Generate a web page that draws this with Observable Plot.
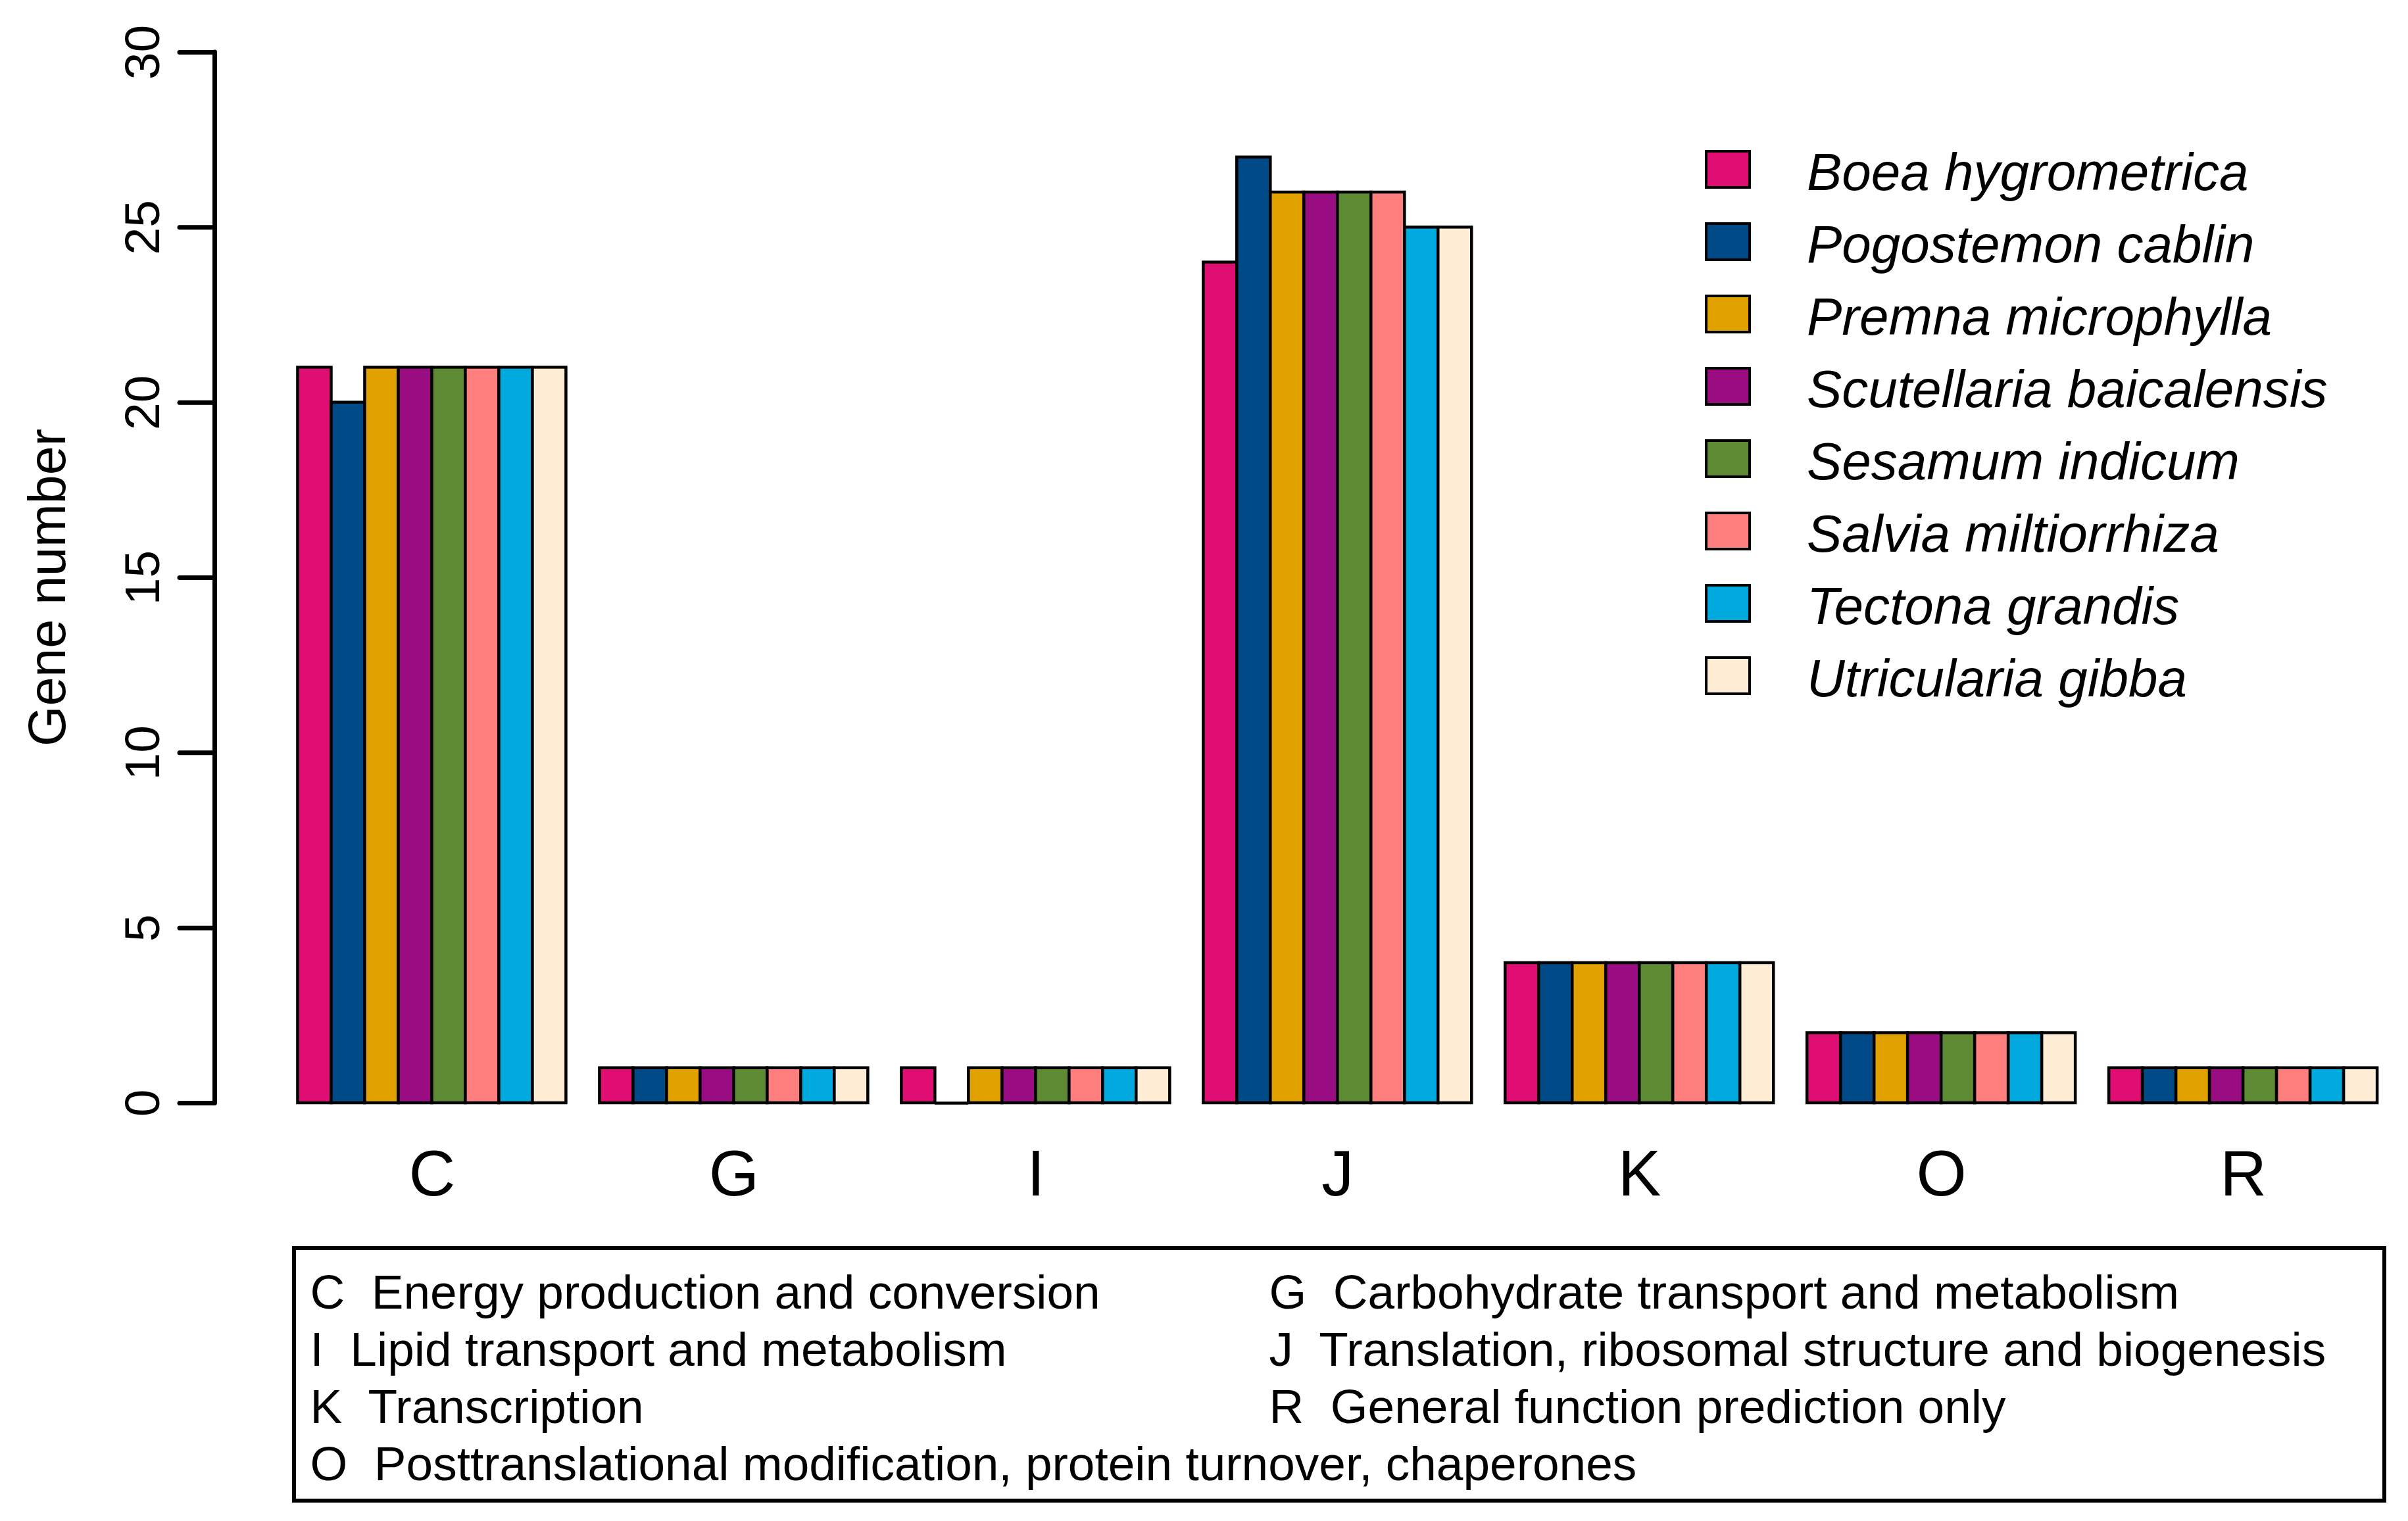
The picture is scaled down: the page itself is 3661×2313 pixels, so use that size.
<!DOCTYPE html>
<html>
<head>
<meta charset="utf-8">
<script src="https://cdn.jsdelivr.net/npm/d3@7"></script>
<script src="https://cdn.jsdelivr.net/npm/@observablehq/plot@0.6"></script>
<style>
  html, body { margin: 0; padding: 0; background: #fff; }
  #root { position: relative; width: 3661px; height: 2313px; background: #fff; font-family: "Liberation Sans", Arial, Helvetica, sans-serif; color: #000; }
  #chart { position: absolute; left: 0; top: 0; }
  #species-legend { position: absolute; left: 2592px; top: 228px; }
  .sp-row { position: absolute; left: 0; height: 59px; width: 1000px; }
  .sp-swatch { position: absolute; left: 0; top: 0; width: 70px; height: 59px; box-sizing: border-box; border: 4.5px solid #000; }
  .sp-label { position: absolute; left: 155px; top: -5.7px; font-size: 80px; line-height: 80px; font-style: italic; white-space: nowrap; }
  #cog-box { position: absolute; left: 444px; top: 1895px; width: 3184px; height: 390px; box-sizing: border-box; border: 6.5px solid #000; }
  .cog-item { position: absolute; font-size: 73px; line-height: 73px; white-space: pre; }
</style>
</head>
<body>
<div id="root">
  <div id="chart"></div>
  <div id="species-legend"></div>
  <div id="cog-box"></div>
</div>
<script>
// ---------- data ----------
const categories = ["C", "G", "I", "J", "K", "O", "R"];
const species = [
  "Boea hygrometrica",
  "Pogostemon cablin",
  "Premna microphylla",
  "Scutellaria baicalensis",
  "Sesamum indicum",
  "Salvia miltiorrhiza",
  "Tectona grandis",
  "Utricularia gibba"
];
const speciesColors = ["#E00E73", "#004B87", "#E1A200", "#990C82", "#5E8A33", "#FF7F7F", "#00AADF", "#FFEDD5"];
// gene numbers per category, in species order
const countsC = [21, 20, 21, 21, 21, 21, 21, 21];
const countsG = [1, 1, 1, 1, 1, 1, 1, 1];
const countsI = [1, 0, 1, 1, 1, 1, 1, 1];
const countsJ = [24, 27, 26, 26, 26, 26, 25, 25];
const countsK = [4, 4, 4, 4, 4, 4, 4, 4];
const countsO = [2, 2, 2, 2, 2, 2, 2, 2];
const countsR = [1, 1, 1, 1, 1, 1, 1, 1];
const countsByCategory = [countsC, countsG, countsI, countsJ, countsK, countsO, countsR];
const yTicks = [0, 5, 10, 15, 20, 25, 30];
const descriptions = {
  C: "Energy production and conversion",
  G: "Carbohydrate transport and metabolism",
  I: "Lipid transport and metabolism",
  J: "Translation, ribosomal structure and biogenesis",
  K: "Transcription",
  O: "Posttranslational modification, protein turnover, chaperones",
  R: "General function prediction only"
};
const legendOrder = ["C", "I", "K", "O", "G", "J", "R"];

// ---------- table (barplot layout: width 1, one-bar space before each group) ----------
const nS = species.length;
const groupStep = nS + 1;
const rows = [];
categories.forEach((cat, gi) => {
  countsByCategory[gi].forEach((v, si) => {
    const left = 1 + gi * groupStep + si;
    rows.push({category: cat, species: species[si], value: v, x1: left, x2: left + 1});
  });
});
const groupCenters = categories.map((cat, gi) => ({category: cat, x: 1 + gi * groupStep + nS / 2}));
const xMin = 1, xMax = 1 + categories.length * groupStep - 1;
const xPad = (xMax - xMin) * 0.04;

const chart = Plot.plot({
  width: 3661,
  height: 1870,
  marginLeft: 326,
  marginRight: 1,
  marginTop: 79,
  marginBottom: 193,
  style: {fontFamily: "'Liberation Sans', Arial, Helvetica, sans-serif", color: "#000", background: "#fff"},
  x: {domain: [xMin - xPad, 63.9], axis: null},
  y: {domain: [0, 30], axis: null},
  color: {domain: species, range: speciesColors},
  marks: [
    Plot.rectY(rows, {x1: "x1", x2: "x2", y1: 0, y2: "value", fill: "species", stroke: "#000", strokeWidth: 4.5}),
    Plot.ruleY(rows.filter(d => d.value === 0), {x1: "x1", x2: "x2", y: 0, stroke: "#000", strokeWidth: 4.5}),
    Plot.ruleX([xMin - xPad], {y1: 0, y2: 30, stroke: "#000", strokeWidth: 7, strokeLinecap: "round"}),
    Plot.axisY({ticks: yTicks, tickSize: 53, tickPadding: 32, tickRotate: -90, fontSize: 75, strokeWidth: 7, strokeLinecap: "round", label: null}),
    Plot.text(["Gene number"], {frameAnchor: "left", dx: -284, dy: 15, rotate: -90, lineAnchor: "top", textAnchor: "middle", fontSize: 79}),
    Plot.text(groupCenters, {x: "x", text: "category", frameAnchor: "bottom", lineAnchor: "top", dy: 71, fontSize: 98})
  ]
});
document.getElementById("chart").appendChild(chart);

// species legend
const leg = document.getElementById("species-legend");
species.forEach((s, i) => {
  const row = document.createElement("div");
  row.className = "sp-row";
  row.style.top = (i * 110) + "px";
  const sw = document.createElement("div");
  sw.className = "sp-swatch";
  sw.style.background = speciesColors[i];
  const lab = document.createElement("div");
  lab.className = "sp-label";
  lab.textContent = s;
  row.appendChild(sw);
  row.appendChild(lab);
  leg.appendChild(row);
});

// COG category box
const box = document.getElementById("cog-box");
legendOrder.forEach((cat, k) => {
  const col = k < 4 ? 0 : 1;
  const r = k % 4;
  const item = document.createElement("div");
  item.className = "cog-item";
  item.style.left = (col === 0 ? 21.5 : 1479.5) + "px";
  item.style.top = (26.5 + r * 87.3) + "px";
  item.textContent = cat + "  " + descriptions[cat];
  box.appendChild(item);
});
</script>
</body>
</html>
